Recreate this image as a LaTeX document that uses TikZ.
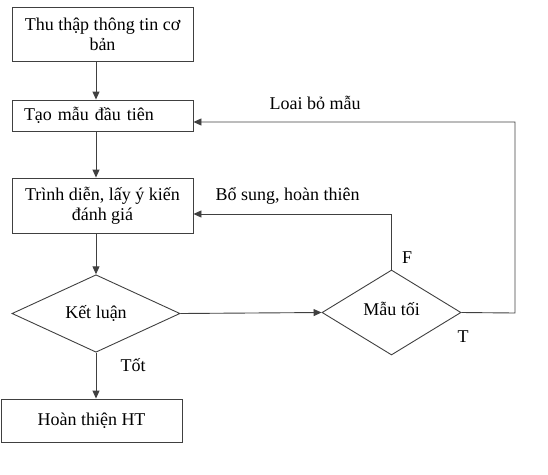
\documentclass[tikz,border=0pt]{standalone}
\usepackage{fontspec}
\setmainfont{Liberation Serif}
\usetikzlibrary{shapes.geometric,arrows.meta}
\begin{document}
\begin{tikzpicture}[x=1pt, y=-1pt, line width=0.9pt,
        every node/.style={font=\fontsize{18}{20}\selectfont},
        box/.style={draw=black!75, rectangle, minimum width=181pt, inner sep=0pt, align=center},
        dec/.style={draw=black!75, diamond, inner sep=0pt},
        arr/.style={draw=black!75, -{Triangle[length=8pt,width=7pt]}},
        ln/.style={draw=black!75}]
        \useasboundingbox (0,0) rectangle (548,474);
        % boxes
        \node[box, minimum height=54pt] (thu) at (102.5,34) {Thu thập thông tin cơ\\bản};
        \node[box, minimum height=31pt, text width=157pt, align=left] (tao) at (102.5,115.5) {Tạo mẫu đầu tiên};
        \node[box, minimum height=55pt] (trinh) at (102.5,205.5) {Trình diễn, lấy ý kiến\\đánh giá};
        \node[box, minimum height=43pt] (hoan) at (91.5,420.5) {Hoàn thiện HT};
        % decisions
        \node[dec, minimum width=168pt, minimum height=63pt] (ketluan) at (96,313.5) {Kết luận};
        \node[dec, minimum width=139pt, minimum height=85pt] (mau) at (391.5,312.5) {\raisebox{7pt}{Mẫu tối}};
        \coordinate (c1) at (515,313);
        \coordinate (c2) at (515,122);
        \coordinate (c3) at (391.5,214);
        % connectors
        \draw[arr] (ketluan.north |- thu.south) -- (ketluan.north |- tao.north);
        \draw[arr] (ketluan.north |- tao.south) -- (ketluan.north |- trinh.north);
        \draw[arr] (ketluan.north |- trinh.south) -- (ketluan.north);
        \draw[arr] (ketluan.south) -- (ketluan.south |- hoan.north);
        \draw[arr] (ketluan.east) -- (mau.west);
        \draw[arr] (mau.east) -- (c1) -- (c2) -- (c2 -| tao.east);
        \draw[arr] (mau.north) -- (c3) -- (c3 -| trinh.east);
        % labels
        \node (loai) at (315,103) {Loai bỏ mẫu};
        \node (bosung) at (287.5,196) {Bổ sung, hoàn thiên};
        \node (tot) at (133,365) {Tốt};
        \node (f) at (407,258) {F};
        \node (t) at (463,337) {T};
\end{tikzpicture}
\end{document}
